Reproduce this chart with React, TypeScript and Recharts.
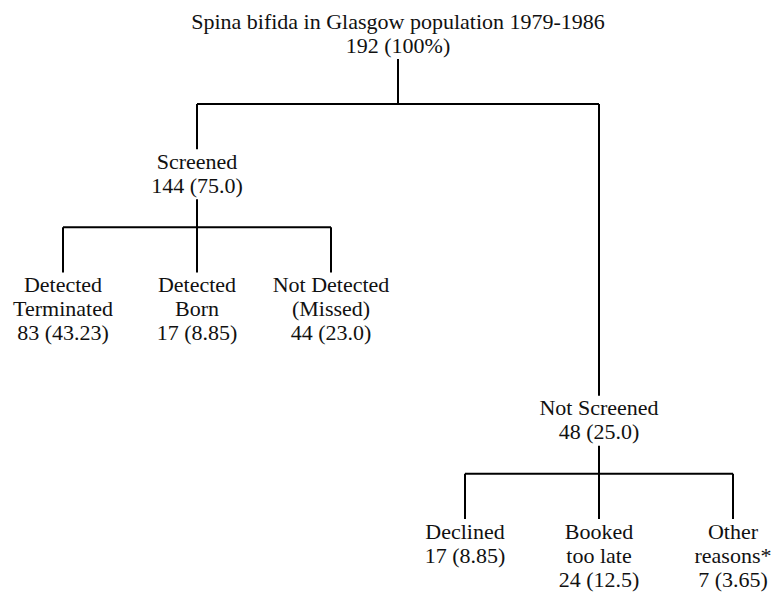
import { ScatterChart, Scatter, XAxis, YAxis, ReferenceLine } from "recharts";

// tree of cases; parents[i] is the index of the node above node i
const labels = [
  ["Spina bifida in Glasgow population 1979-1986"],
  ["Screened"],
  ["Detected", "Terminated"],
  ["Detected", "Born"],
  ["Not Detected", "(Missed)"],
  ["Not Screened"],
  ["Declined"],
  ["Booked", "too late"],
  ["Other", "reasons*"],
];
const counts = [192, 144, 83, 17, 44, 48, 17, 24, 7];
const shares = ["100%", "75.0", "43.23", "8.85", "23.0", "25.0", "8.85", "12.5", "3.65"];
const parents = [-1, 0, 1, 1, 1, 0, 5, 5, 5];

const W = 777;
const H = 598;
const MARGIN = { top: 38, right: 44, bottom: 67, left: 63 };
const FONT = "'Liberation Serif', 'Times New Roman', serif";
const LINE_PX = 24;
const ROOT_LIFT = 17;

const kids = labels.map((_, i) => parents.flatMap((p, j) => (p === i ? [j] : [])));
const row: number[] = [];
const col: number[] = [];
let nextLeaf = 0;

// a node goes under its parent, but below anything its older siblings have hanging under them
function place(i: number, r: number): number {
  row[i] = r;
  if (kids[i].length === 0) {
    col[i] = nextLeaf++;
    return -Infinity;
  }
  let below = -Infinity;
  let deepest = -Infinity;
  for (const c of kids[i]) {
    const d = place(c, Math.max(r + 1, below + 1));
    below = Math.max(below, d);
    deepest = Math.max(deepest, row[c], d);
  }
  col[i] = kids[i].reduce((s, c) => s + col[c], 0) / kids[i].length;
  return deepest;
}
place(0, 0);

const maxRow = Math.max(...row);
const maxCol = nextLeaf - 1;
const ROW_PX = (H - MARGIN.top - MARGIN.bottom) / maxRow;
const px = (v: number) => v / ROW_PX;

const nodes = labels.map((l, i) => ({
  x: col[i],
  y: row[i],
  root: parents[i] < 0,
  lines: [...l, `${counts[i]} (${shares[i]})`],
}));

const BAR = px(66);
const GAP = px(12);

type Seg = [{ x: number; y: number }, { x: number; y: number }];
const segments: Seg[] = [];
nodes.forEach((n, i) => {
  if (kids[i].length === 0) return;
  const lift = n.root ? ROOT_LIFT : 0;
  const barY = n.y + BAR;
  const textEnd = n.y + px((n.lines.length - 1) * LINE_PX + 14 - lift);
  segments.push([{ x: n.x, y: textEnd }, { x: n.x, y: barY }]);
  const xs = kids[i].map((c) => col[c]);
  segments.push([{ x: Math.min(...xs), y: barY }, { x: Math.max(...xs), y: barY }]);
  kids[i].forEach((c) => {
    segments.push([{ x: col[c], y: barY }, { x: col[c], y: row[c] - GAP }]);
  });
});

function NodeLabel(props: any) {
  const { cx, cy, payload } = props;
  const top = cy - (payload.root ? ROOT_LIFT : 0);
  return (
    <g>
      {payload.lines.map((t: string, k: number) => (
        <text
          key={k}
          x={cx}
          y={top + k * LINE_PX}
          textAnchor="middle"
          dominantBaseline="central"
          fontFamily={FONT}
          fontSize={22}
          fill="#111"
        >
          {t}
        </text>
      ))}
    </g>
  );
}

export default function App() {
  return (
    <div style={{ position: "absolute", left: 0, top: 0, background: "#fff" }}>
      <ScatterChart width={W} height={H} margin={MARGIN}>
        <XAxis type="number" dataKey="x" domain={[0, maxCol]} hide />
        <YAxis type="number" dataKey="y" domain={[0, maxRow]} reversed hide />
        {segments.map((s, k) => (
          <ReferenceLine key={k} segment={s} stroke="#000" strokeWidth={2} ifOverflow="visible" />
        ))}
        <Scatter data={nodes} shape={NodeLabel} isAnimationActive={false} />
      </ScatterChart>
    </div>
  );
}
